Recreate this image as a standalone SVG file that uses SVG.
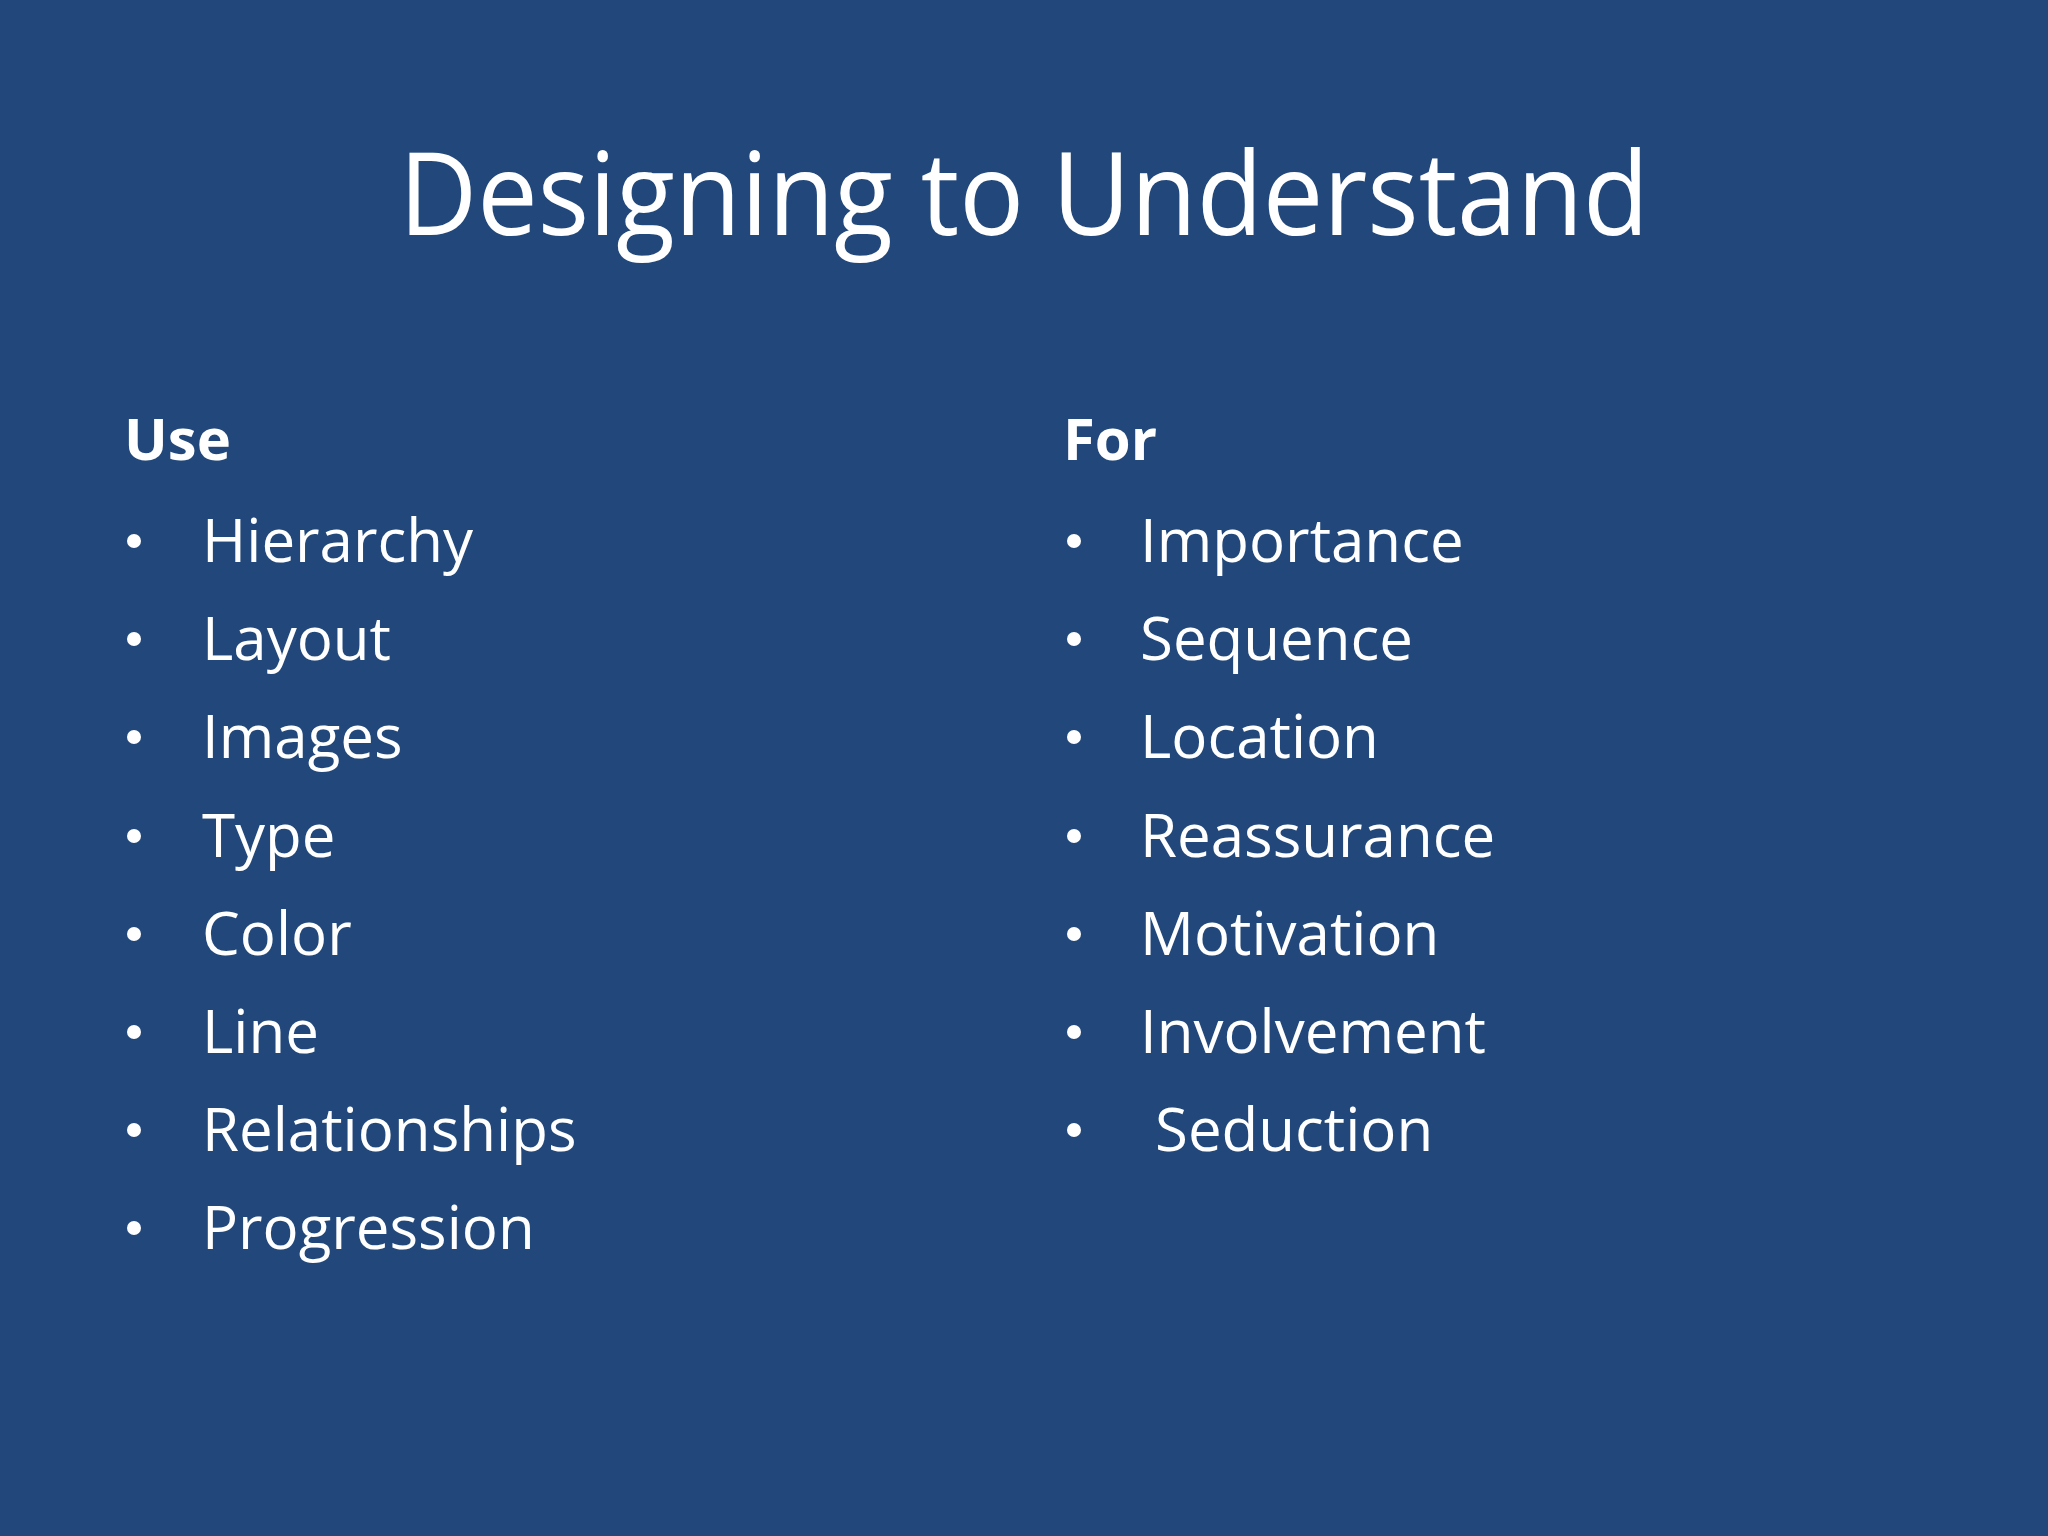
<svg xmlns="http://www.w3.org/2000/svg" width="2048" height="1536" viewBox="0 0 2048 1536">
<style>
text{fill:#fff;font-family:"Open Sans","Liberation Sans",sans-serif}
.t{font-size:116px;text-anchor:middle}
.h{font-size:58px;font-weight:bold}
.i{font-size:60px}
circle{fill:#fff}
</style>
<rect width="2048" height="1536" fill="#22487B"/>
<g id="title"><text class="t" x="1024" y="235" textLength="1250" lengthAdjust="spacingAndGlyphs">Designing to Understand</text></g>
<g id="use">
<text class="h" x="124" y="460">Use</text>
<circle cx="134" cy="541" r="7"/><text class="i" x="202" y="562">Hierarchy</text>
<circle cx="134" cy="639" r="7"/><text class="i" x="202" y="660">Layout</text>
<circle cx="134" cy="737" r="7"/><text class="i" x="202" y="758">Images</text>
<circle cx="134" cy="836" r="7"/><text class="i" x="202" y="857">Type</text>
<circle cx="134" cy="934" r="7"/><text class="i" x="202" y="955">Color</text>
<circle cx="134" cy="1032" r="7"/><text class="i" x="202" y="1053">Line</text>
<circle cx="134" cy="1130" r="7"/><text class="i" x="202" y="1151">Relationships</text>
<circle cx="134" cy="1228" r="7"/><text class="i" x="202" y="1249">Progression</text>
</g>
<g id="for">
<text class="h" x="1063" y="460">For</text>
<circle cx="1074" cy="541" r="7"/><text class="i" x="1140" y="562">Importance</text>
<circle cx="1074" cy="639" r="7"/><text class="i" x="1140" y="660">Sequence</text>
<circle cx="1074" cy="737" r="7"/><text class="i" x="1140" y="758">Location</text>
<circle cx="1074" cy="836" r="7"/><text class="i" x="1140" y="857">Reassurance</text>
<circle cx="1074" cy="934" r="7"/><text class="i" x="1140" y="955">Motivation</text>
<circle cx="1074" cy="1032" r="7"/><text class="i" x="1140" y="1053">Involvement</text>
<circle cx="1074" cy="1130" r="7"/><text class="i" x="1155" y="1151">Seduction</text>
</g>
</svg>
